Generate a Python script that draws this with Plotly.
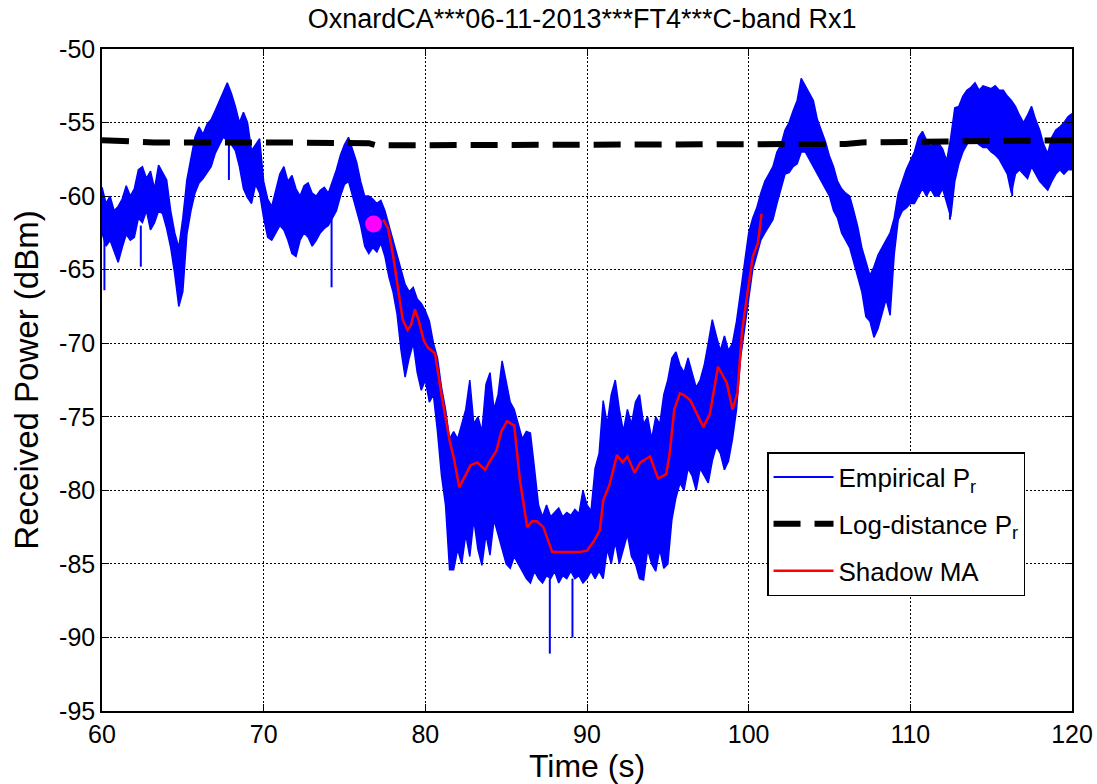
import numpy as np
import plotly.graph_objects as go

# ---------------- data ----------------
# Empirical received power: envelope of the noisy trace, sampled every 0.25 s from 60 s to 120 s
env_time = np.arange(60.0, 120.0001, 0.25)

emp_upper = [
    # 60 - 65
    -59.4, -60.5, -60.0, -61.0, -60.7, -60.2, -59.3, -60.0, -59.5, -58.2,
    -58.0, -58.8, -58.3, -59.5, -57.9, -58.4, -58.9, -61.0, -62.5, -63.5,
    # 65 - 70
    -61.5, -58.9, -57.5, -56.0, -55.3, -55.8, -55.1, -54.8, -54.2, -53.6,
    -52.9, -52.3, -53.0, -53.9, -55.0, -54.3, -55.0, -56.9, -56.5, -56.1,
    # 70 - 75
    -59.0, -60.2, -60.7, -59.5, -58.5, -58.0, -59.0, -58.6, -59.5, -60.0,
    -59.3, -59.1, -59.8, -60.0, -59.6, -59.4, -59.8, -59.0, -58.2, -57.2,
    # 75 - 80
    -56.5, -56.0, -56.8, -57.7, -59.0, -60.0, -60.0, -60.2, -60.5, -60.3,
    -61.0, -62.0, -63.0, -64.0, -65.0, -66.0, -66.5, -66.2, -67.0, -67.3,
    # 80 - 85
    -67.8, -68.5, -70.0, -71.0, -73.0, -74.5, -76.5, -76.0, -76.5, -75.5,
    -74.5, -72.5, -75.5, -75.0, -76.0, -72.8, -72.0, -74.5, -73.5, -71.2,
    # 85 - 90
    -72.5, -74.0, -74.5, -75.5, -76.5, -76.0, -76.1, -78.5, -81.0, -81.8,
    -81.0, -81.8, -81.5, -81.2, -81.8, -81.5, -81.7, -81.3, -81.6, -80.0,
    # 90 - 95
    -81.0, -81.4, -78.5, -77.5, -73.9, -75.5, -73.5, -72.5, -74.5, -76.0,
    -74.5, -75.5, -74.0, -73.5, -75.5, -75.0, -76.5, -75.0, -75.5, -73.5,
    # 95 - 100
    -72.5, -71.0, -70.6, -71.5, -72.0, -71.0, -72.0, -73.0, -72.5, -71.5,
    -70.0, -68.4, -69.5, -70.5, -69.5, -70.5, -70.0, -68.5, -66.5, -64.5,
    # 100 - 105
    -62.5, -61.5, -60.8, -59.8, -59.0, -58.5, -58.0, -57.0, -56.5, -55.5,
    -55.0, -54.2, -53.5, -52.0, -52.5, -53.0, -53.5, -54.8, -55.5, -56.3,
    # 105 - 110
    -57.3, -58.0, -59.0, -59.5, -59.8, -60.0, -61.0, -62.1, -63.5, -64.5,
    -65.4, -64.8, -64.0, -63.5, -63.0, -62.5, -61.5, -59.8, -59.0, -58.2,
    # 110 - 115
    -57.6, -57.0, -56.0, -55.6, -56.2, -56.6, -56.3, -56.4, -56.8, -57.6,
    -56.0, -54.0, -53.9, -53.2, -52.8, -52.6, -52.3, -52.8, -52.5, -52.6,
    # 115 - 120
    -52.7, -52.5, -52.8, -52.8, -53.2, -53.5, -53.9, -54.5, -55.0, -54.5,
    -53.9, -54.8, -55.5, -56.5, -57.1, -56.0, -55.5, -55.3, -55.0, -54.6,
    -54.4,
]

emp_lower = [
    # 60 - 65
    -62.5, -63.4, -63.0, -63.8, -64.5, -63.5, -62.6, -63.0, -62.8, -61.5,
    -61.8, -61.0, -62.3, -61.8, -61.0, -61.2, -62.2, -63.5, -65.3, -67.5,
    # 65 - 70
    -66.5, -62.6, -61.0, -59.8, -59.1, -58.8, -58.4, -58.0, -57.1, -56.5,
    -56.0, -56.2, -56.5, -56.9, -58.0, -59.5, -60.1, -60.5, -59.2, -59.8,
    # 70 - 75
    -61.5, -62.8, -63.0, -62.5, -62.0, -62.3, -63.0, -63.9, -64.1, -63.0,
    -62.5, -62.8, -63.4, -63.0, -62.5, -62.2, -62.0, -61.5, -61.0, -60.0,
    # 75 - 80
    -59.2, -59.0, -60.0, -61.0, -62.0, -63.4, -63.9, -63.5, -63.8, -63.2,
    -64.1, -65.5, -66.5, -68.0, -70.5, -72.3, -71.0, -70.0, -72.0, -73.2,
    # 80 - 85
    -72.5, -74.0, -73.5, -76.0, -79.0, -81.0, -85.4, -85.4, -84.0, -85.0,
    -83.0, -84.5, -82.0, -84.0, -85.1, -83.0, -84.4, -82.0, -83.0, -84.0,
    # 85 - 90
    -85.0, -85.3, -84.5, -85.0, -85.5, -86.0, -86.3, -85.5, -86.0, -86.3,
    -85.8, -86.0, -85.5, -86.3, -85.8, -86.0, -85.5, -86.0, -85.8, -86.3,
    # 90 - 95
    -86.0, -85.5, -86.0, -85.5, -86.0, -84.0, -85.0, -83.5, -85.0, -84.0,
    -83.0, -84.5, -85.0, -86.0, -86.1, -84.0, -85.0, -85.5, -84.0, -85.3,
    # 95 - 100
    -85.0, -82.0, -80.5, -79.5, -80.0, -78.5, -79.0, -80.0, -78.5, -79.0,
    -79.5, -78.0, -77.0, -77.5, -78.6, -78.0, -76.5, -74.5, -71.0, -69.0,
    # 100 - 105
    -67.0, -65.0, -64.0, -63.0, -62.5, -62.0, -61.6, -60.5, -59.5, -58.5,
    -58.4, -58.0, -57.8, -57.0, -57.0, -57.5, -58.0, -58.5, -59.0, -59.5,
    # 105 - 110
    -60.0, -61.0, -61.5, -62.5, -63.0, -63.5, -64.5, -65.5, -66.5, -68.2,
    -68.5, -69.6, -69.0, -68.0, -67.0, -68.1, -64.0, -61.6, -61.0, -60.8,
    # 110 - 115
    -60.5, -60.5, -60.0, -59.5, -60.0, -59.5, -60.0, -60.0, -59.5, -60.5,
    -61.4, -59.0, -57.8, -57.0, -56.5, -56.0, -56.2, -56.5, -56.7, -56.7,
    # 115 - 120
    -57.0, -57.2, -57.5, -58.0, -58.5, -59.8, -58.5, -58.2, -58.5, -58.8,
    -58.0, -58.5, -59.0, -59.3, -59.6, -59.0, -58.5, -58.2, -58.5, -58.2,
    -58.2,
]

# isolated deep spikes of the empirical trace
spike_time = [60.15, 62.4, 67.85, 74.2, 87.7, 89.1, 112.45, 116.3]
spike_top = [-62.0, -62.0, -56.0, -61.5, -86.0, -86.0, -60.0, -58.0]
spike_bottom = [-66.4, -64.8, -58.9, -66.2, -91.1, -90.0, -61.6, -60.0]

# log-distance path-loss model
logd_time = [60, 63, 63.2, 70, 76.5, 77, 90, 97, 98, 106, 107, 112, 113, 120]
logd_power = [-56.2, -56.25, -56.35, -56.35, -56.4, -56.55, -56.55, -56.55,
              -56.45, -56.45, -56.35, -56.3, -56.2, -56.2]

# shadowing moving average
ma_time = [77.4, 77.7, 78.0, 78.3, 78.6, 78.9, 79.1, 79.36, 79.6, 79.9, 80.16, 80.6,
           81.0, 81.5, 81.8, 82.1, 82.4, 82.8, 83.2, 83.7, 84.0, 84.4, 84.7, 85.05,
           85.5, 85.85, 86.3, 86.6, 86.9, 87.3, 87.85, 88.5, 88.95, 89.5, 90.0, 90.4,
           90.8, 91.0, 91.4, 91.85, 92.2, 92.5, 92.95, 93.3, 93.9, 94.4, 94.9, 95.1,
           95.4, 95.75, 96.1, 96.4, 96.8, 97.2, 97.6, 98.1, 98.65, 99.0, 99.3, 99.6,
           99.95, 100.26, 100.57, 100.8]
ma_power = [-61.6, -62.2, -64.0, -66.2, -68.4, -69.1, -68.8, -67.7, -68.5, -69.8, -70.3, -70.7,
            -73.5, -76.6, -78.0, -79.8, -79.2, -78.3, -78.1, -78.6, -78.0, -77.3, -76.0, -75.3,
            -75.6, -79.3, -82.5, -82.1, -82.1, -82.5, -84.2, -84.2, -84.2, -84.2, -84.1, -83.5,
            -82.7, -80.7, -79.6, -77.6, -78.1, -77.7, -78.8, -78.1, -77.7, -79.2, -78.9, -77.6,
            -74.5, -73.4, -73.6, -73.9, -74.8, -75.7, -74.8, -71.6, -72.7, -74.5, -73.4, -69.1,
            -66.4, -64.1, -63.2, -61.2]

# start marker
start_time = [76.8]
start_power = [-61.9]

x_ticks = [60, 70, 80, 90, 100, 110, 120]
x_tick_labels = ["60", "70", "80", "90", "100", "110", "120"]
y_ticks = [-95, -90, -85, -80, -75, -70, -65, -60, -55, -50]
y_tick_labels = ["-95", "-90", "-85", "-80", "-75", "-70", "-65", "-60", "-55", "-50"]

# ---------------- figure ----------------
FONT = "Liberation Sans, Arial, Helvetica, sans-serif"
BLUE = "rgb(0,0,255)"

fig = go.Figure()

# empirical band
fig.add_trace(go.Scatter(x=env_time, y=emp_lower, mode="lines",
                         line=dict(color=BLUE, width=1.5), showlegend=False,
                         hoverinfo="skip"))
fig.add_trace(go.Scatter(x=env_time, y=emp_upper, mode="lines", fill="tonexty",
                         fillcolor=BLUE, line=dict(color=BLUE, width=1.5),
                         showlegend=False, hoverinfo="skip"))
sx, sy = [], []
for t, a, b in zip(spike_time, spike_top, spike_bottom):
    sx += [t, t, None]
    sy += [a, b, None]
fig.add_trace(go.Scatter(x=sx, y=sy, mode="lines", line=dict(color=BLUE, width=2),
                         showlegend=False, hoverinfo="skip"))

# legend entry for the empirical trace
fig.add_trace(go.Scatter(x=[None], y=[None], mode="lines", name="Empirical P<sub>r</sub>",
                         line=dict(color=BLUE, width=2), legendgroup="a"))

fig.add_trace(go.Scatter(x=logd_time, y=logd_power, mode="lines",
                         name="Log-distance P<sub>r</sub>",
                         line=dict(color="black", width=6, dash="27px,14px"),
                         legendgroup="b"))

fig.add_trace(go.Scatter(x=ma_time, y=ma_power, mode="lines", name="Shadow MA",
                         line=dict(color="rgb(255,0,0)", width=2.5), legendgroup="c"))

fig.add_trace(go.Scatter(x=start_time, y=start_power, mode="markers", showlegend=False,
                         marker=dict(color="rgb(255,0,255)", size=17,
                                     line=dict(width=0))))

axis_common = dict(
    showline=True, linecolor="black", linewidth=1.5, mirror="ticks",
    ticks="inside", ticklen=7, tickwidth=1, tickcolor="black",
    showgrid=True, gridcolor="black", gridwidth=1, griddash="2px,2px",
    zeroline=False, automargin=False,
    tickfont=dict(family=FONT, size=25, color="black"),
)

fig.update_xaxes(range=[60, 120], tickvals=x_ticks, ticktext=x_tick_labels,
                 title=dict(text="Time (s)", font=dict(family=FONT, size=32, color="black"),
                            standoff=12),
                 **axis_common)
fig.update_yaxes(range=[-95, -50], tickvals=y_ticks, ticktext=y_tick_labels,
                 title=dict(text="Received Power (dBm)",
                            font=dict(family=FONT, size=33, color="black"), standoff=11),
                 **axis_common)

fig.update_layout(
    width=1097, height=784,
    margin=dict(l=102, r=25, t=49, b=73),
    paper_bgcolor="white", plot_bgcolor="white",
    font=dict(family=FONT, color="black"),
    title=dict(text="OxnardCA***06-11-2013***FT4***C-band Rx1",
               font=dict(family=FONT, size=27, color="black"),
               x=0.495, xref="paper", xanchor="center",
               y=1 - 19 / 784, yref="container", yanchor="middle"),
    legend=dict(x=0.6856, y=0.391, xanchor="left", yanchor="top",
                bgcolor="white", bordercolor="black", borderwidth=1.5,
                font=dict(family=FONT, size=26, color="black"),
                itemwidth=60, tracegroupgap=10),
    showlegend=True,
)

fig.write_html(
    "out.html",
    config={"displayModeBar": False},
    post_script="document.body.style.margin='0';document.body.style.padding='0';"
                "document.body.style.overflow='hidden';",
)
